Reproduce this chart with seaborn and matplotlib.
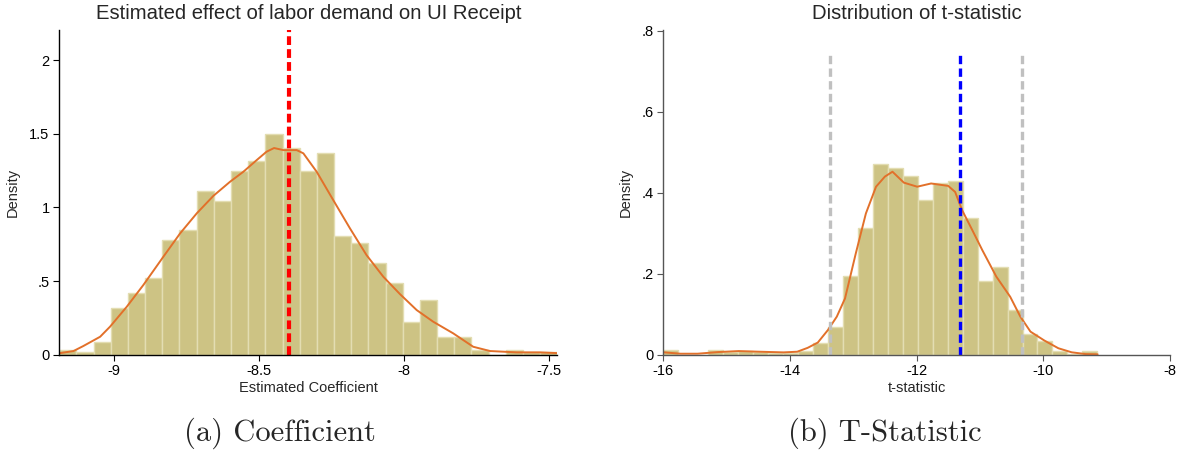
import numpy as np
import pandas as pd
import matplotlib
matplotlib.use("Agg")
import matplotlib.pyplot as plt
import seaborn as sns

# ---------------- data ----------------
coef_bin_start = -9.189
coef_bin_end = -7.471
coef_density = [0.030, 0.016, 0.084, 0.317, 0.416, 0.518, 0.776, 0.844, 1.109, 1.041,
                1.244, 1.312, 1.500, 1.403, 1.244, 1.367, 0.808, 0.756, 0.620, 0.484,
                0.219, 0.369, 0.118, 0.118, 0.032, 0.000, 0.032, 0.020, 0.016]
coef_kde_x = [-9.189, -9.14, -9.106, -9.048, -9.014, -8.956, -8.899, -8.83, -8.772, -8.715,
              -8.657, -8.60, -8.554, -8.508, -8.474, -8.448, -8.416, -8.37, -8.347, -8.301,
              -8.244, -8.186, -8.129, -8.071, -8.014, -7.956, -7.899, -7.83, -7.761, -7.703,
              -7.611, -7.531, -7.471]
coef_kde_y = [0.010, 0.025, 0.059, 0.122, 0.190, 0.326, 0.473, 0.665, 0.824, 0.959,
              1.079, 1.174, 1.242, 1.321, 1.378, 1.403, 1.389, 1.389, 1.367, 1.242,
              1.050, 0.857, 0.676, 0.529, 0.412, 0.303, 0.224, 0.145, 0.054, 0.025,
              0.016, 0.016, 0.011]
coef_true = -8.398

t_bin_start = -16.0
t_bin_end = -9.144
t_density = [0.012, 0.000, 0.000, 0.011, 0.006, 0.010, 0.006, 0.004, 0.004, 0.008,
             0.028, 0.068, 0.194, 0.312, 0.470, 0.460, 0.441, 0.381, 0.423, 0.430,
             0.337, 0.182, 0.216, 0.110, 0.051, 0.034, 0.008, 0.002, 0.009]
t_kde_x = [-16.0, -15.73, -15.46, -15.13, -14.81, -14.48, -14.10, -13.885, -13.72, -13.56,
           -13.40, -13.26, -13.13, -12.96, -12.80, -12.64, -12.50, -12.38, -12.20, -11.99,
           -11.77, -11.50, -11.39, -11.28, -11.12, -10.96, -10.74, -10.52, -10.36, -10.20,
           -9.98, -9.76, -9.55, -9.33, -9.14]
t_kde_y = [0.006, 0.0025, 0.0025, 0.0066, 0.009, 0.0074, 0.0058, 0.0074, 0.017, 0.030,
           0.061, 0.094, 0.139, 0.250, 0.349, 0.415, 0.440, 0.452, 0.425, 0.415,
           0.423, 0.417, 0.402, 0.357, 0.308, 0.258, 0.193, 0.143, 0.094, 0.057,
           0.035, 0.016, 0.006, 0.0016, 0.001]
t_mean = -11.32
t_lower = -13.375
t_upper = -10.333

coef_xticks = [-9, -8.5, -8, -7.5]
coef_xticklabels = ["-9", "-8.5", "-8", "-7.5"]
coef_yticks = [0, 0.5, 1, 1.5, 2]
coef_yticklabels = ["0", ".5", "1", "1.5", "2"]
t_xticks = [-16, -14, -12, -10, -8]
t_xticklabels = ["-16", "-14", "-12", "-10", "-8"]
t_yticks = [0, 0.2, 0.4, 0.6, 0.8]
t_yticklabels = ["0", ".2", ".4", ".6", ".8"]

# ---------------- style ----------------
sns.set_style("ticks")
plt.rcParams["font.family"] = ["Liberation Sans", "DejaVu Sans"]

BAR = "#cdc384"
BAR_EDGE = "#e3ddb2"
KDE = "#e2702a"

fig = plt.figure(figsize=(11.78, 4.62), dpi=100)
ax1 = fig.add_axes([0.0503, 0.2322, 0.4228, 0.7028])
ax2 = fig.add_axes([0.5631, 0.2322, 0.4299, 0.7028])


def draw_hist(ax, start, end, dens):
    n = len(dens)
    width = (end - start) / n
    centers = start + width * (np.arange(n) + 0.5)
    df = pd.DataFrame({"x": centers, "w": np.asarray(dens, dtype=float)})
    sns.histplot(data=df, x="x", weights="w", bins=n, binrange=(start, end),
                 stat="count", color=BAR, edgecolor=BAR_EDGE, linewidth=1.0,
                 alpha=1.0, ax=ax)


# left panel
draw_hist(ax1, coef_bin_start, coef_bin_end, coef_density)
sns.lineplot(x=coef_kde_x, y=coef_kde_y, color=KDE, linewidth=1.4, ax=ax1, sort=False)
ax1.axvline(coef_true, color="#ff0000", linewidth=3.0, dashes=(2.1, 1.0), zorder=5)
ax1.set_xlim(coef_bin_start, coef_bin_end)
ax1.set_ylim(0, 2.204)
ax1.set_xticks(coef_xticks)
ax1.set_xticklabels(coef_xticklabels)
ax1.set_yticks(coef_yticks)
ax1.set_yticklabels(coef_yticklabels)
ax1.set_xlabel("Estimated Coefficient", fontsize=10.5, labelpad=2)
ax1.set_ylabel("Density", fontsize=10.5, labelpad=7)
ax1.set_title("Estimated effect of labor demand on UI Receipt", fontsize=14.6, pad=8)

# right panel
draw_hist(ax2, t_bin_start, t_bin_end, t_density)
sns.lineplot(x=t_kde_x, y=t_kde_y, color=KDE, linewidth=1.4, ax=ax2, sort=False)
for xv, col in [(t_lower, "#c0c0c0"), (t_upper, "#c0c0c0"), (t_mean, "#0000ff")]:
    ax2.plot([xv, xv], [0, 0.75], color=col, linewidth=2.4, dashes=(2.5, 1.3), zorder=5)
ax2.set_xlim(-16, -8)
ax2.set_ylim(0, 0.802)
ax2.set_xticks(t_xticks)
ax2.set_xticklabels(t_xticklabels)
ax2.set_yticks(t_yticks)
ax2.set_yticklabels(t_yticklabels)
ax2.set_xlabel("t-statistic", fontsize=10.5, labelpad=2)
ax2.set_ylabel("Density", fontsize=10.5, labelpad=6)
ax2.set_title("Distribution of t-statistic", fontsize=14.6, pad=8)

for ax, sc in [(ax1, "#000000"), (ax2, "#555555")]:
    sns.despine(ax=ax)
    for s in ["left", "bottom"]:
        ax.spines[s].set_color(sc)
        ax.spines[s].set_linewidth(1.0)
        ax.spines[s].set_zorder(6)
    ax.tick_params(axis="both", length=4, width=0.8, color=sc, labelsize=10.5,
                   pad=3, labelcolor="#000000")
    ax.grid(False)

fig.text(280 / 1178, 1 - 441 / 462, "(a) Coefficient", family="cmr10",
         fontsize=22, ha="center", va="baseline")
fig.text(885 / 1178, 1 - 441 / 462, "(b) T-Statistic", family="cmr10",
         fontsize=22, ha="center", va="baseline")

fig.savefig("out.png", dpi=100)
